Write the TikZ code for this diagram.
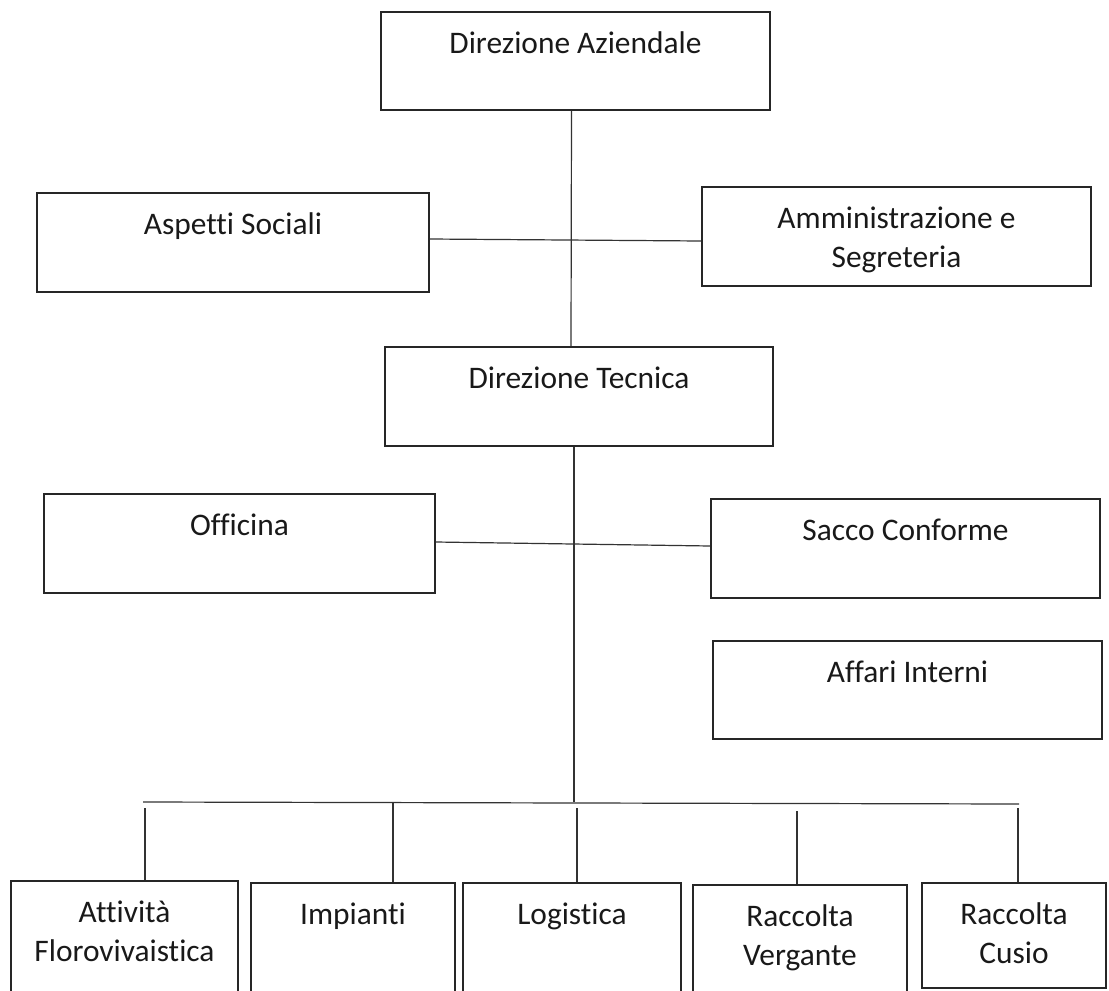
\documentclass[tikz,border=0pt]{standalone}
\usepackage{fontspec}
\setmainfont{Carlito}[Ligatures=NoCommon]
\begin{document}
\begin{tikzpicture}[x=1pt, y=-1pt,
	box/.style={draw=black!85, line width=1.7pt, inner sep=0pt},
	lbl/.style={anchor=base, yshift=-42pt, align=center, text=black!90, font=\fontsize{31.4pt}{39pt}\selectfont},
	twoline/.style={yshift=-39pt},
	link/.style={draw=black!80, line width=1.2pt}]
	\useasboundingbox (0,0) rectangle (1109,991);
	\clip (0,0) rectangle (1109,991);
	% direzione
	\node[box, minimum width=389pt, minimum height=98pt] (dirAz) at (575.5,61) {};
	\node[box, minimum width=392pt, minimum height=99pt] (aspetti) at (233,242.5) {};
	\node[box, minimum width=389pt, minimum height=99pt] (ammin) at (896.5,236.5) {};
	\node[box, minimum width=388pt, minimum height=99pt] (dirTec) at (579,396.5) {};
	\node[box, minimum width=391pt, minimum height=99pt] (officina) at (239.5,543.5) {};
	\node[box, minimum width=389pt, minimum height=99pt] (sacco) at (905.5,548.5) {};
	\node[box, minimum width=389pt, minimum height=98pt] (affari) at (907.5,690) {};
	% settori
	\node[box, minimum width=227pt, minimum height=130pt] (att) at (124.5,946) {};
	\node[box, minimum width=204pt, minimum height=130pt] (imp) at (353,948) {};
	\node[box, minimum width=218pt, minimum height=130pt] (log) at (572,948) {};
	\node[box, minimum width=214pt, minimum height=130pt] (racV) at (800,950) {};
	\node[box, minimum width=184pt, minimum height=105pt] (racC) at (1014,935.5) {};
	% testi
	\node[lbl] at (dirAz.north) {Direzione Aziendale};
	\node[lbl] at (aspetti.north) {Aspetti Sociali};
	\node[lbl, twoline] at (ammin.north) {Amministrazione e\\Segreteria};
	\node[lbl] at (dirTec.north) {Direzione Tecnica};
	\node[lbl] at (officina.north) {Officina};
	\node[lbl] at (sacco.north) {Sacco Conforme};
	\node[lbl] at (affari.north) {Affari Interni};
	\node[lbl, twoline] at (att.north) {Attività\\Florovivaistica};
	\node[lbl] at (imp.north) {Impianti};
	\node[lbl] at (log.north) {Logistica};
	\node[lbl, twoline] at (racV.north) {Raccolta\\Vergante};
	\node[lbl, twoline] at (racC.north) {Raccolta\\Cusio};
	% collegamenti
	\coordinate (busL) at (143,802);
	\coordinate (busC) at (574,802);
	\coordinate (busR) at (1019,804);
	\draw[link] ([xshift=-4pt]dirAz.south) -- ([xshift=-8pt]dirTec.north);
	\draw[link] ([yshift=3.5pt]aspetti.east) -- ([yshift=-4.5pt]ammin.west);
	\draw[link] ([xshift=-5pt]dirTec.south) -- (busC);
	\draw[link] ([yshift=1.5pt]officina.east) -- ([yshift=2.5pt]sacco.west);
	\draw[link] (busL) -- (busR);
	\foreach \x/\y/\n in {145/808/att, 393/802/imp, 577/808/log, 797/811/racV, 1018/808/racC}{
		\coordinate (top\n) at (\x,\y);
		\draw[link] (top\n) -- (top\n |- \n.north);
	}
\end{tikzpicture}
\end{document}
